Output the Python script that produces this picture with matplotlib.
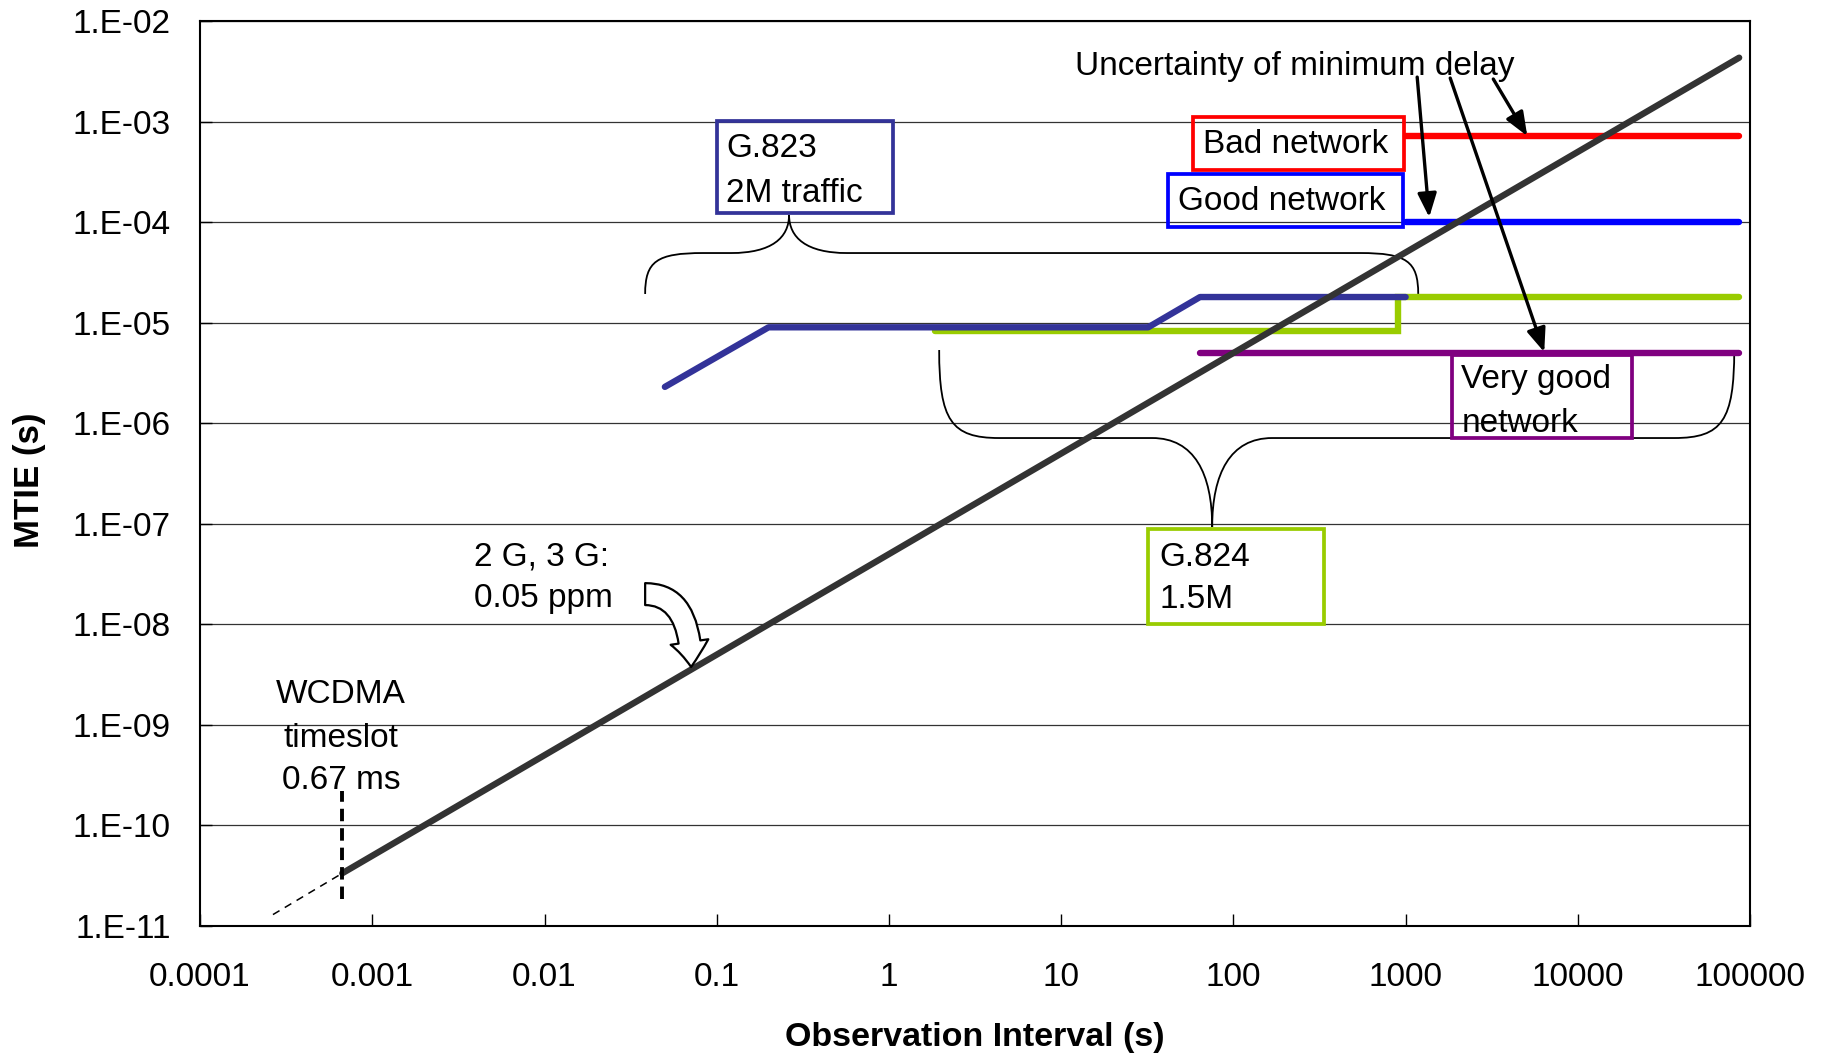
# MTIE vs observation interval, network masks
import matplotlib
matplotlib.use("Agg")
import matplotlib.pyplot as plt
import matplotlib.patches as mpatches
import matplotlib.transforms as mtransforms
from matplotlib.path import Path

plt.rcParams['font.family'] = ['Liberation Sans', 'DejaVu Sans']

# --- data ---
ppm_x = [0.00067, 86400]
ppm_y = [3.35e-11, 4.32e-3]
ppm_ext_x = [0.000265, 0.00067]
ppm_ext_y = [1.3e-11, 3.35e-11]
wcdma_x = [0.00067, 0.00067]
wcdma_y = [1.86e-11, 2.2e-10]

bad_x = [1000, 86400]
bad_y = [7.2e-4, 7.2e-4]
good_x = [1000, 86400]
good_y = [1e-4, 1e-4]
g823_x = [0.05, 0.2, 32, 64, 1000]
g823_y = [2.3e-6, 9e-6, 9e-6, 1.8e-5, 1.8e-5]
g824_x = [1.85, 900, 900, 86400]
g824_y = [8.2e-6, 8.2e-6, 1.8e-5, 1.8e-5]
verygood_x = [64, 86400]
verygood_y = [5e-6, 5e-6]

x_ticks = [1e-4, 1e-3, 1e-2, 1e-1, 1, 10, 100, 1000, 10000, 100000]
x_tick_labels = ["0.0001", "0.001", "0.01", "0.1", "1", "10", "100",
                 "1000", "10000", "100000"]
y_ticks = [1e-11, 1e-10, 1e-9, 1e-8, 1e-7, 1e-6, 1e-5, 1e-4, 1e-3, 1e-2]
y_tick_labels = ["1.E-11", "1.E-10", "1.E-09", "1.E-08", "1.E-07",
                 "1.E-06", "1.E-05", "1.E-04", "1.E-03", "1.E-02"]

navy = "#333399"
green = "#99CC00"
red = "#FF0000"
blue = "#0000FF"
purple = "#800080"

fig = plt.figure(figsize=(18.27, 10.57), dpi=100)
ax = fig.add_axes([0.1095, 0.1239, 0.8484, 0.8562])
ax.set_xscale("log")
ax.set_yscale("log")
ax.set_xlim(1e-4, 1e5)
ax.set_ylim(1e-11, 1e-2)

ax.set_xticks(x_ticks)
ax.set_xticklabels(x_tick_labels)
ax.set_yticks(y_ticks)
ax.set_yticklabels(y_tick_labels)
ax.minorticks_off()
ax.tick_params(axis="both", direction="in", length=8.5, width=1,
               labelsize=24, top=False, right=False)
ax.tick_params(axis="x", pad=26)
ax.tick_params(axis="y", pad=21)
ax.yaxis.grid(True, color="#333333", lw=0.9)
ax.set_axisbelow(True)
for sp in ax.spines.values():
    sp.set_linewidth(1.5)

lw = 4.6
ax.plot(g824_x, g824_y, color=green, lw=lw, solid_capstyle="round", solid_joinstyle="miter")
ax.plot(g823_x, g823_y, color=navy, lw=lw, solid_capstyle="round")
ax.plot(verygood_x, verygood_y, color=purple, lw=lw, solid_capstyle="round")
ax.plot(good_x, good_y, color=blue, lw=lw, solid_capstyle="round")
ax.plot(bad_x, bad_y, color=red, lw=lw, solid_capstyle="round")
ax.plot(ppm_x, ppm_y, color="#333333", lw=lw, solid_capstyle="round")
ax.plot(ppm_ext_x, ppm_ext_y, color="black", lw=1.1, ls=(0, (5, 4)))
ax.plot(wcdma_x, wcdma_y, color="black", lw=2.8, ls=(0, (3.2, 1.8)))

# --- labelled boxes: (lines, x0, x1, y0, y1, text x, baselines, colour)
boxes = [
    (["G.823", "2M traffic"], 0.0999, 1.058, 1.23e-4, 1.01e-3, 0.1135, [4.45e-4, 1.58e-4], navy),
    (["Bad network"], 58.5, 982, 3.3e-4, 1.11e-3, 66.8, [4.87e-4], red),
    (["Good network"], 41.8, 968, 8.9e-5, 3.01e-4, 47.9, [1.32e-4], blue),
    (["Very good", "network"], 1866, 20700, 7.13e-7, 4.78e-6, 2103, [2.24e-6, 8.19e-7], purple),
    (["G.824", "1.5M"], 32.1, 336, 1.01e-8, 8.87e-8, 37.1, [3.8e-8, 1.46e-8], green),
]
for lines, x0, x1, y0, y1, tx, bases, col in boxes:
    ax.add_patch(mpatches.Rectangle((x0, y0), x1 - x0, y1 - y0, fill=False,
                                    ec=col, lw=2.7, zorder=4))
    for txt, yb in zip(lines, bases):
        ax.text(tx, yb, txt, fontsize=24, ha="left", va="baseline", zorder=5)

# free text
ax.text(12, 2.9e-3, "Uncertainty of minimum delay", fontsize=24,
        ha="left", va="baseline")
for txt, yb in zip(["2 G, 3 G:", "0.05 ppm"], [3.89e-8, 1.49e-8]):
    ax.text(0.0039, yb, txt, fontsize=24, ha="left", va="baseline")
for txt, yb in zip(["WCDMA", "timeslot", "0.67 ms"], [1.65e-9, 6.0e-10, 2.3e-10]):
    ax.text(0.00066, yb, txt, fontsize=24, ha="center", va="baseline")

# arrows from the "uncertainty" label
arrow_pairs = [((1167, 2.77e-3), (1371, 1.12e-4)),
               ((1815, 2.71e-3), (6380, 5.1e-6)),
               ((3228, 2.65e-3), (5085, 7.18e-4))]
for start, tip in arrow_pairs:
    ax.annotate("", xy=tip, xytext=start,
                arrowprops=dict(arrowstyle="-|>,head_length=0.4,head_width=0.16",
                                lw=2.4, color="black", shrinkA=0, shrinkB=0,
                                mutation_scale=36))

# hollow bent arrow for 0.05 ppm
ax.add_patch(mpatches.FancyArrowPatch(
    posA=(0.0384, 2.0e-8), posB=(0.071, 3.77e-9),
    connectionstyle="angle3,angleA=0,angleB=90",
    arrowstyle="simple,head_length=1.8,head_width=2.74,tail_width=1.58",
    mutation_scale=10, fc="white", ec="black", lw=1.6,
    shrinkA=0, shrinkB=0, zorder=6))


def brace(x0, x1, xt, y_end, y_mid, y_tip, r=58):
    to_px = ax.transData.transform
    X0, Ye = to_px((x0, y_end))
    X1, _ = to_px((x1, y_end))
    Xt, Ym = to_px((xt, y_mid))
    _, Yt = to_px((xt, y_tip))
    verts = [(X0, Ye),
             (X0, Ye + 0.8 * (Ym - Ye)), (X0 + 0.2 * r, Ym), (X0 + r, Ym),
             (Xt - r, Ym),
             (Xt - 0.3 * r, Ym), (Xt, Ym + 0.4 * (Yt - Ym)), (Xt, Yt),
             (Xt, Ym + 0.4 * (Yt - Ym)), (Xt + 0.3 * r, Ym), (Xt + r, Ym),
             (X1 - r, Ym),
             (X1 - 0.2 * r, Ym), (X1, Ye + 0.8 * (Ym - Ye)), (X1, Ye)]
    codes = [Path.MOVETO, Path.CURVE4, Path.CURVE4, Path.CURVE4, Path.LINETO,
             Path.CURVE4, Path.CURVE4, Path.CURVE4,
             Path.CURVE4, Path.CURVE4, Path.CURVE4, Path.LINETO,
             Path.CURVE4, Path.CURVE4, Path.CURVE4]
    ax.add_patch(mpatches.PathPatch(Path(verts, codes), fill=False, ec="black",
                                    lw=1.3, transform=mtransforms.IdentityTransform(),
                                    clip_on=False))


brace(0.0384, 1183, 0.263, 1.93e-5, 4.93e-5, 1.18e-4)
brace(1.957, 80900, 75.3, 5.35e-6, 7.13e-7, 9.3e-8, r=60)

fig.text(975 / 1827, 1 - 1046 / 1057, "Observation Interval (s)", fontsize=24.5,
         fontweight="bold", ha="center", va="baseline")
fig.text(29 / 1827, 1 - 480 / 1057, "MTIE (s)", fontsize=25, fontweight="bold",
         rotation=90, ha="center", va="center")

fig.savefig("out.png", dpi=100)
